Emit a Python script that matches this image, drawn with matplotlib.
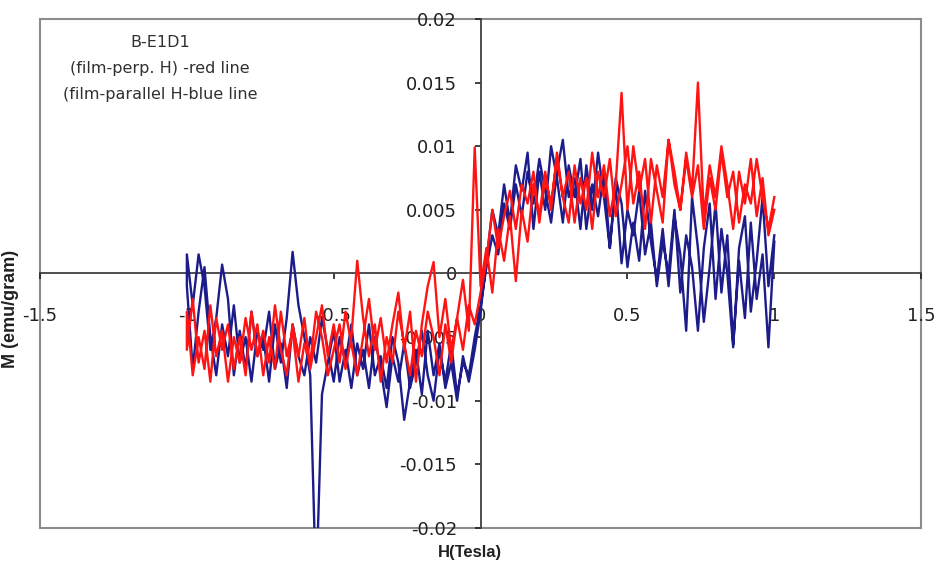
import numpy as np
import matplotlib
matplotlib.use("Agg")
import matplotlib.pyplot as plt
from matplotlib.patches import Rectangle

plt.rcParams['font.family'] = ['DejaVu Sans']

# field sweep (Tesla): down from +1 to -1, then back up
h_down = np.round(np.linspace(1.0, -1.0, 101), 2)
h_up = np.round(np.linspace(-1.0, 1.0, 101), 2)

# film-parallel H (blue), M in 1e-3 emu/gram
blue_down = [2.5, -5.8, 1.5, -2.0, 4.0, -3.5, 1.0, -5.6, 3.0, -1.5,
             5.5, 0.5, -3.8, 2.0, 6.0, -4.5, 1.5, 4.5, -1.0, 3.5,
             -0.5, 2.5, 6.5, 1.0, 4.0, 0.5, 5.5, 7.5, 2.0, 8.0,
             4.5, 7.0, 3.5, 9.0, 6.0, 8.5, 4.0, 7.5, 10.0, 5.0,
             8.0, 3.5, 9.5, 6.5, 8.5, 4.0, 7.0, 3.0, 5.0, 1.0,
             -3.0, -6.0, -8.5, -6.5, -10.0, -7.0, -9.0, -5.5, -8.0, -4.5,
             -9.5, -6.0, -8.5, -11.5, -7.0, -5.0, -9.0, -6.5, -8.0, -4.0,
             -7.5, -5.5, -9.0, -6.0, -8.5, -4.5, -7.0, -9.5, -25.0, -8.0,
             -5.0, -2.5, 1.7, -3.5, -7.0, -4.0, -8.5, -5.0, -6.5, -3.0,
             -7.5, -4.5, -8.0, -2.0, 0.7, -3.5, -6.0, -1.0, 1.5, -2.5,
             1.5]
blue_up = [-1.0, -7.5, -3.0, 0.5, -5.0, -8.0, -4.0, -6.5, -2.5, -7.0,
           -5.0, -8.5, -4.5, -6.0, -3.0, -7.5, -5.5, -9.0, -4.0, -6.5,
           -8.0, -5.0, -7.0, -3.5, -6.0, -8.5, -5.0, -7.0, -4.0, -8.0,
           -6.0, -9.0, -5.0, -7.5, -10.5, -6.5, -8.5, -5.5, -9.0, -7.0,
           -4.5, -8.0, -10.0, -6.0, -8.5, -5.5, -9.5, -7.0, -8.0, -5.0,
           -2.5, 0.5, 3.0, 1.5, 5.5, 3.5, 7.0, 4.5, 8.0, 5.5,
           9.0, 6.5, 4.0, 8.0, 10.5, 6.0, 7.5, 3.5, 8.5, 5.0,
           9.5, 6.0, 2.0, 7.0, 0.8, 5.0, 3.0, 6.5, 1.5, 4.0,
           -1.0, 2.5, 0.0, 5.0, -1.5, 3.0, 0.5, -4.5, 2.0, 5.5,
           -2.0, 3.5, 0.0, -5.8, 2.0, 4.5, -3.0, 1.0, 6.0, -1.0,
           3.0]

# film-perp. H (red)
red_down = [5.0, 3.0, 7.5, 4.5, 9.0, 5.5, 8.0, 3.5, 7.0, 10.0,
            6.0, 8.5, 4.5, 15.0, 6.5, 9.5, 5.0, 8.0, 10.5, 6.0,
            8.5, 4.0, 9.0, 6.5, 10.0, 5.0, 14.2, 7.0, 4.5, 8.5,
            6.0, 9.5, 5.0, 7.5, 4.0, 8.0, 6.0, 9.0, 5.5, 7.5,
            4.0, 8.0, 5.5, 7.0, 3.5, 6.5, 4.5, 2.0, 5.0, 1.0,
            -1.5, -4.0, -2.5, -6.0, -3.5, -7.0, -4.0, -8.0, -5.0, -3.0,
            -6.5, -4.5, -8.0, -5.5, -3.0, -7.0, -5.0, -8.5, -4.0, -6.5,
            -3.5, 1.0, -5.0, -7.5, -4.0, -6.0, -8.0, -5.0, -3.0, -7.0,
            -5.5, -8.5, -4.5, -6.5, -3.0, -7.5, -5.0, -8.0, -4.0, -6.0,
            -3.5, -7.0, -5.0, -8.5, -4.5, -6.5, -2.5, -7.5, -5.0, -8.0,
            -3.0]
red_up = [-6.0, -2.0, -7.0, -4.5, -8.5, -3.5, -6.0, -4.0, -7.5, -5.0,
          -8.0, -3.0, -6.5, -4.5, -7.0, -2.5, -6.0, -8.0, -4.0, -6.5,
          -3.5, -7.5, -5.0, -2.5, -6.5, -4.0, -7.0, -3.0, -5.5, -8.0,
          -5.0, -2.0, -6.0, -3.5, -7.0, -4.0, -1.5, -6.0, -3.0, -8.5,
          -4.0, -1.0, 0.9, -5.0, -2.0, -6.0, -3.5, -0.5, -4.5, 9.9,
          -1.0, 2.0, -1.5, 3.5, 1.0, 4.5, -0.6, 5.0, 2.5, 7.0,
          4.5, 8.0, 5.0, 9.5, 6.0, 4.0, 8.5, 5.5, 7.5, 3.5,
          8.0, 6.0, 9.0, 4.5, 7.0, 10.0, 5.5, 8.0, 3.5, 9.0,
          6.5, 4.0, 10.5, 7.0, 5.0, 9.0, 6.0, 8.5, 3.5, 7.5,
          5.0, 9.5, 6.0, 8.0, 4.0, 7.0, 5.5, 9.0, 6.0, 3.5,
          6.0]

x_ticks = [-1.5, -1, -0.5, 0, 0.5, 1, 1.5]
x_labels = ['-1.5', '-1', '-0.5', '0', '0.5', '1', '1.5']
y_ticks = [-0.02, -0.015, -0.01, -0.005, 0, 0.005, 0.01, 0.015, 0.02]
y_labels = ['-0.02', '-0.015', '-0.01', '-0.005', '0', '0.005', '0.01', '0.015', '0.02']

h_blue = np.concatenate([h_down, h_up])
m_blue = np.array(blue_down + blue_up) * 1e-3
h_red = np.concatenate([h_down, h_up])
m_red = np.array(red_down + red_up) * 1e-3

fig = plt.figure(figsize=(9.39, 5.70), dpi=100)
ax = fig.add_axes([0.0426, 0.0737, 0.9384, 0.893])

ax.plot(h_blue, m_blue, color='#1c1c8a', lw=1.7, zorder=3)
ax.plot(h_red, m_red, color='#ff1414', lw=1.7, zorder=4)

ax.set_xlim(-1.5, 1.5)
ax.set_ylim(-0.02, 0.02)

# axes cross at the origin, plot area framed in grey
for s in ['top', 'right']:
    ax.spines[s].set_visible(False)
ax.spines['left'].set_position('zero')
ax.spines['bottom'].set_position('zero')
ax.spines['left'].set_color('#404040')
ax.spines['bottom'].set_color('#404040')
ax.spines['left'].set_linewidth(1.3)
ax.spines['bottom'].set_linewidth(1.3)
ax.add_patch(Rectangle((0, 0), 1, 1, transform=ax.transAxes, fill=False,
                       edgecolor='#8c8c8c', lw=1.5, zorder=1, clip_on=False))

ax.set_xticks(x_ticks)
ax.set_xticklabels(x_labels)
ax.set_yticks(y_ticks)
ax.set_yticklabels(y_labels)
ax.tick_params(axis='x', direction='out', length=4, width=1.2, pad=20,
               labelsize=13, colors='#202020')
ax.tick_params(axis='y', direction='out', length=4, width=1.2, pad=13,
               labelsize=13, colors='#202020')

ax.text(0.136, 0.968, 'B-E1D1\n(film-perp. H) -red line\n(film-parallel H-blue line',
        transform=ax.transAxes, ha='center', va='top', fontsize=11.5,
        color='#303030', linespacing=1.9)

fig.text(0.50, 0.030, 'H(Tesla)', ha='center', va='center', fontsize=12,
         fontweight='bold', family='Liberation Sans', color='#202020')
fig.text(0.011, 0.458, 'M (emu/gram)', ha='center', va='center', rotation=90,
         fontsize=13, fontweight='bold', family='Liberation Sans', color='#202020')

fig.savefig('out.png', dpi=100)
